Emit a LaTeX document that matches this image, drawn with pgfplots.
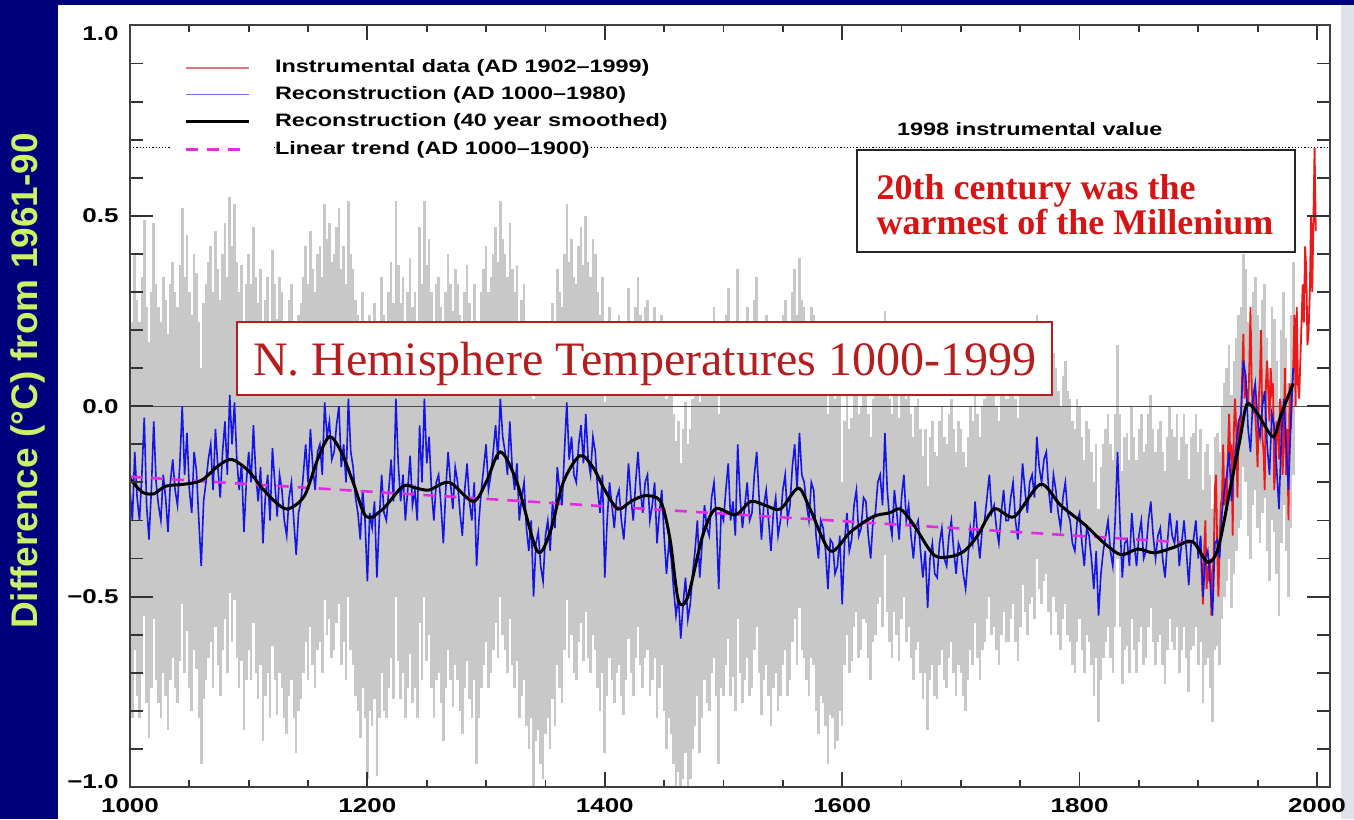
\documentclass[border=0pt]{standalone}
\usepackage{fontspec}
\usepackage{pgfplots}
\pgfplotsset{compat=1.18}
\usepackage{pgfplotstable}

\newfontfamily\idlfont{Liberation Sans}[FakeStretch=1.3]
\newfontfamily\labfont{Liberation Sans}
\newfontfamily\boxserif{Liberation Serif}

\definecolor{navy}{RGB}{0,0,125}
\definecolor{bandgray}{RGB}{200,200,200}
\definecolor{recblue}{RGB}{20,20,230}
\definecolor{instred}{RGB}{235,25,25}
\definecolor{trendmag}{RGB}{225,45,225}
\definecolor{titlered}{RGB}{180,30,30}
\definecolor{boxred}{RGB}{215,20,20}
\definecolor{ylabcol}{RGB}{205,240,105}
\definecolor{edgestrip}{RGB}{225,225,238}
\definecolor{legred}{RGB}{225,120,120}
\definecolor{legblue}{RGB}{110,110,230}

% legend sample: white backing so the dotted reference line stays hidden behind it
\pgfplotsset{legend image code/.code={%
    \fill[white] (-6pt,-4.5pt) rectangle (44pt,4.5pt);
    \draw[#1] (0pt,0pt) -- (31.5pt,0pt);}}

% reconstruction (t) with its two-sigma half width (s)
\pgfplotstableread{
yr t s
1000 -0.22 0.52
1002 -0.30 0.52
1004 -0.12 0.52
1006 -0.24 0.52
1008 -0.30 0.52
1010 -0.18 0.52
1012 -0.03 0.52
1014 -0.26 0.52
1016 -0.35 0.52
1018 -0.22 0.52
1020 -0.04 0.52
1022 -0.20 0.52
1024 -0.26 0.52
1026 -0.30 0.52
1028 -0.18 0.52
1030 -0.24 0.52
1032 -0.33 0.52
1034 -0.20 0.52
1036 -0.14 0.52
1038 -0.22 0.52
1040 -0.26 0.52
1042 -0.15 0.52
1044 0.00 0.52
1046 -0.18 0.52
1048 -0.07 0.52
1050 -0.22 0.52
1052 -0.28 0.52
1054 -0.12 0.52
1056 -0.17 0.52
1058 -0.30 0.52
1060 -0.42 0.52
1062 -0.25 0.52
1064 -0.20 0.52
1066 -0.14 0.52
1068 -0.10 0.52
1070 -0.22 0.52
1072 -0.06 0.52
1074 -0.16 0.52
1076 -0.24 0.52
1078 -0.12 0.52
1080 -0.04 0.52
1082 -0.18 0.52
1084 0.03 0.52
1086 -0.10 0.52
1088 0.01 0.52
1090 -0.14 0.52
1092 -0.22 0.52
1094 -0.15 0.52
1096 -0.33 0.52
1098 -0.20 0.52
1100 -0.12 0.52
1102 -0.20 0.52
1104 -0.05 0.52
1106 -0.18 0.52
1108 -0.25 0.52
1110 -0.16 0.52
1112 -0.36 0.52
1114 -0.24 0.52
1116 -0.18 0.52
1118 -0.30 0.52
1120 -0.11 0.52
1122 -0.20 0.52
1124 -0.29 0.52
1126 -0.18 0.52
1128 -0.22 0.52
1130 -0.30 0.52
1132 -0.34 0.52
1134 -0.24 0.52
1136 -0.20 0.52
1138 -0.30 0.52
1140 -0.39 0.52
1142 -0.28 0.52
1144 -0.25 0.52
1146 -0.18 0.52
1148 -0.10 0.52
1150 -0.20 0.52
1152 -0.06 0.52
1154 -0.16 0.52
1156 -0.22 0.52
1158 -0.12 0.52
1160 -0.10 0.52
1162 -0.18 0.52
1164 0.01 0.52
1166 -0.08 0.52
1168 -0.04 0.52
1170 -0.14 0.52
1172 -0.12 0.52
1174 -0.05 0.52
1176 0.00 0.52
1178 -0.16 0.52
1180 -0.10 0.52
1182 -0.20 0.52
1184 0.02 0.52
1186 -0.12 0.52
1188 -0.16 0.52
1190 -0.24 0.52
1192 -0.28 0.52
1194 -0.35 0.52
1196 -0.22 0.52
1198 -0.30 0.52
1200 -0.46 0.52
1202 -0.28 0.52
1204 -0.32 0.52
1206 -0.25 0.52
1208 -0.45 0.52
1210 -0.30 0.52
1212 -0.18 0.52
1214 -0.28 0.52
1216 -0.30 0.52
1218 -0.22 0.52
1220 -0.14 0.52
1222 -0.25 0.52
1224 0.02 0.52
1226 -0.15 0.52
1228 -0.25 0.52
1230 -0.18 0.52
1232 -0.30 0.52
1234 -0.22 0.52
1236 -0.13 0.52
1238 -0.26 0.52
1240 -0.22 0.52
1242 -0.30 0.52
1244 -0.05 0.52
1246 -0.20 0.52
1248 0.02 0.52
1250 -0.15 0.52
1252 -0.08 0.52
1254 -0.22 0.52
1256 -0.30 0.52
1258 -0.20 0.52
1260 -0.18 0.52
1262 -0.26 0.52
1264 -0.36 0.52
1266 -0.22 0.52
1268 -0.12 0.52
1270 -0.20 0.52
1272 -0.27 0.52
1274 -0.16 0.52
1276 -0.20 0.52
1278 -0.28 0.52
1280 -0.34 0.52
1282 -0.22 0.52
1284 -0.15 0.52
1286 -0.25 0.52
1288 -0.30 0.52
1290 -0.20 0.52
1292 -0.42 0.52
1294 -0.30 0.52
1296 -0.22 0.52
1298 -0.16 0.52
1300 -0.10 0.52
1302 -0.22 0.52
1304 -0.18 0.52
1306 -0.12 0.52
1308 -0.05 0.52
1310 -0.14 0.52
1312 0.02 0.52
1314 -0.08 0.52
1316 -0.12 0.52
1318 -0.18 0.52
1320 -0.04 0.52
1322 -0.16 0.52
1324 -0.22 0.52
1326 -0.15 0.52
1328 -0.30 0.52
1330 -0.24 0.52
1332 -0.20 0.52
1334 -0.32 0.52
1336 -0.38 0.52
1338 -0.30 0.52
1340 -0.50 0.52
1342 -0.36 0.52
1344 -0.33 0.52
1346 -0.42 0.52
1348 -0.46 0.52
1350 -0.34 0.52
1352 -0.30 0.52
1354 -0.38 0.52
1356 -0.25 0.52
1358 -0.32 0.52
1360 -0.16 0.52
1362 -0.22 0.52
1364 -0.26 0.52
1366 -0.12 0.52
1368 0.01 0.52
1370 -0.14 0.52
1372 -0.08 0.52
1374 -0.18 0.52
1376 -0.20 0.52
1378 -0.10 0.52
1380 -0.05 0.52
1382 -0.15 0.52
1384 -0.02 0.52
1386 -0.14 0.52
1388 -0.18 0.52
1390 -0.08 0.52
1392 -0.12 0.52
1394 -0.22 0.52
1396 -0.28 0.52
1398 -0.18 0.52
1400 -0.45 0.46
1402 -0.30 0.46
1404 -0.20 0.46
1406 -0.26 0.46
1408 -0.32 0.46
1410 -0.24 0.46
1412 -0.22 0.46
1414 -0.30 0.46
1416 -0.35 0.46
1418 -0.26 0.46
1420 -0.15 0.46
1422 -0.24 0.46
1424 -0.30 0.46
1426 -0.20 0.46
1428 -0.12 0.46
1430 -0.22 0.46
1432 -0.28 0.46
1434 -0.20 0.46
1436 -0.18 0.46
1438 -0.30 0.46
1440 -0.26 0.46
1442 -0.20 0.46
1444 -0.36 0.46
1446 -0.28 0.46
1448 -0.22 0.46
1450 -0.34 0.46
1452 -0.44 0.46
1454 -0.36 0.46
1456 -0.40 0.46
1458 -0.48 0.46
1460 -0.55 0.46
1462 -0.50 0.46
1464 -0.61 0.46
1466 -0.52 0.46
1468 -0.45 0.46
1470 -0.56 0.46
1472 -0.52 0.46
1474 -0.44 0.46
1476 -0.38 0.46
1478 -0.30 0.46
1480 -0.45 0.46
1482 -0.36 0.46
1484 -0.26 0.46
1486 -0.32 0.46
1488 -0.34 0.46
1490 -0.24 0.46
1492 -0.20 0.46
1494 -0.30 0.46
1496 -0.48 0.46
1498 -0.28 0.46
1500 -0.30 0.46
1502 -0.22 0.46
1504 -0.15 0.46
1506 -0.30 0.46
1508 -0.25 0.46
1510 -0.34 0.46
1512 -0.10 0.46
1514 -0.24 0.46
1516 -0.32 0.46
1518 -0.26 0.46
1520 -0.20 0.46
1522 -0.30 0.46
1524 -0.28 0.46
1526 -0.18 0.46
1528 -0.12 0.46
1530 -0.24 0.46
1532 -0.35 0.46
1534 -0.26 0.46
1536 -0.22 0.46
1538 -0.30 0.46
1540 -0.38 0.46
1542 -0.28 0.46
1544 -0.24 0.46
1546 -0.34 0.46
1548 -0.30 0.46
1550 -0.22 0.46
1552 -0.18 0.46
1554 -0.30 0.46
1556 -0.26 0.46
1558 -0.16 0.46
1560 -0.10 0.46
1562 -0.22 0.46
1564 -0.07 0.46
1566 -0.18 0.46
1568 -0.20 0.46
1570 -0.26 0.46
1572 -0.30 0.46
1574 -0.20 0.46
1576 -0.22 0.46
1578 -0.34 0.46
1580 -0.40 0.46
1582 -0.30 0.46
1584 -0.32 0.46
1586 -0.38 0.46
1588 -0.48 0.46
1590 -0.35 0.46
1592 -0.36 0.46
1594 -0.44 0.46
1596 -0.42 0.46
1598 -0.34 0.46
1600 -0.52 0.32
1602 -0.36 0.32
1604 -0.28 0.32
1606 -0.38 0.32
1608 -0.35 0.32
1610 -0.26 0.32
1612 -0.22 0.32
1614 -0.34 0.32
1616 -0.32 0.32
1618 -0.24 0.32
1620 -0.25 0.32
1622 -0.34 0.32
1624 -0.40 0.32
1626 -0.30 0.32
1628 -0.28 0.32
1630 -0.20 0.32
1632 -0.18 0.32
1634 -0.26 0.32
1636 -0.07 0.32
1638 -0.22 0.32
1640 -0.30 0.32
1642 -0.34 0.32
1644 -0.22 0.32
1646 -0.28 0.32
1648 -0.35 0.32
1650 -0.24 0.32
1652 -0.18 0.32
1654 -0.30 0.32
1656 -0.26 0.32
1658 -0.34 0.32
1660 -0.40 0.32
1662 -0.32 0.32
1664 -0.30 0.32
1666 -0.38 0.32
1668 -0.45 0.32
1670 -0.38 0.32
1672 -0.53 0.32
1674 -0.40 0.32
1676 -0.36 0.32
1678 -0.44 0.32
1680 -0.45 0.32
1682 -0.36 0.32
1684 -0.32 0.32
1686 -0.40 0.32
1688 -0.42 0.32
1690 -0.34 0.32
1692 -0.30 0.32
1694 -0.38 0.32
1696 -0.44 0.32
1698 -0.36 0.32
1700 -0.38 0.32
1702 -0.44 0.32
1704 -0.48 0.32
1706 -0.40 0.32
1708 -0.32 0.32
1710 -0.36 0.32
1712 -0.25 0.32
1714 -0.34 0.32
1716 -0.40 0.32
1718 -0.32 0.32
1720 -0.30 0.32
1722 -0.24 0.32
1724 -0.18 0.32
1726 -0.28 0.32
1728 -0.26 0.32
1730 -0.32 0.32
1732 -0.36 0.32
1734 -0.28 0.32
1736 -0.22 0.32
1738 -0.30 0.32
1740 -0.30 0.32
1742 -0.24 0.32
1744 -0.20 0.32
1746 -0.30 0.32
1748 -0.35 0.32
1750 -0.26 0.32
1752 -0.15 0.32
1754 -0.22 0.32
1756 -0.28 0.32
1758 -0.20 0.32
1760 -0.18 0.32
1762 -0.24 0.32
1764 -0.08 0.32
1766 -0.16 0.32
1768 -0.20 0.32
1770 -0.14 0.32
1772 -0.12 0.32
1774 -0.22 0.32
1776 -0.28 0.32
1778 -0.18 0.32
1780 -0.22 0.32
1782 -0.28 0.32
1784 -0.32 0.32
1786 -0.24 0.32
1788 -0.20 0.32
1790 -0.28 0.32
1792 -0.30 0.32
1794 -0.36 0.32
1796 -0.38 0.32
1798 -0.30 0.32
1800 -0.28 0.28
1802 -0.36 0.28
1804 -0.42 0.28
1806 -0.32 0.28
1808 -0.34 0.28
1810 -0.40 0.28
1812 -0.48 0.28
1814 -0.38 0.28
1816 -0.55 0.28
1818 -0.44 0.28
1820 -0.38 0.28
1822 -0.34 0.28
1824 -0.30 0.28
1826 -0.38 0.28
1828 -0.42 0.28
1830 -0.30 0.28
1832 -0.12 0.28
1834 -0.30 0.28
1836 -0.45 0.28
1838 -0.36 0.28
1840 -0.35 0.28
1842 -0.42 0.28
1844 -0.28 0.28
1846 -0.36 0.28
1848 -0.42 0.28
1850 -0.34 0.28
1852 -0.30 0.28
1854 -0.40 0.28
1856 -0.38 0.28
1858 -0.30 0.28
1860 -0.25 0.28
1862 -0.34 0.28
1864 -0.40 0.28
1866 -0.34 0.28
1868 -0.32 0.28
1870 -0.40 0.28
1872 -0.45 0.28
1874 -0.36 0.28
1876 -0.28 0.28
1878 -0.34 0.28
1880 -0.36 0.28
1882 -0.30 0.28
1884 -0.42 0.28
1886 -0.36 0.28
1888 -0.30 0.28
1890 -0.38 0.28
1892 -0.47 0.28
1894 -0.36 0.28
1896 -0.35 0.28
1898 -0.30 0.28
1900 -0.40 0.28
1902 -0.34 0.28
1904 -0.50 0.28
1906 -0.40 0.28
1908 -0.38 0.28
1910 -0.46 0.28
1912 -0.55 0.28
1914 -0.36 0.28
1916 -0.35 0.28
1918 -0.40 0.28
1920 -0.28 0.28
1922 -0.22 0.28
1924 -0.18 0.28
1926 -0.12 0.28
1928 -0.25 0.28
1930 -0.16 0.28
1932 -0.10 0.28
1934 -0.04 0.28
1936 -0.02 0.28
1938 0.12 0.28
1940 0.08 0.28
1942 -0.06 0.28
1944 -0.12 0.28
1946 0.02 0.28
1948 0.06 0.28
1950 -0.04 0.28
1952 -0.08 0.28
1954 0.00 0.28
1956 0.04 0.28
1958 -0.10 0.28
1960 -0.18 0.28
1962 -0.02 0.28
1964 -0.05 0.28
1966 -0.16 0.28
1968 -0.27 0.28
1970 -0.08 0.28
1972 0.02 0.28
1974 -0.10 0.28
1976 -0.22 0.28
1978 -0.04 0.28
1980 0.10 0.28
}\recon

% 40-year smoothed reconstruction
\pgfplotstableread{
yr t
1000 -0.19
1010 -0.225
1020 -0.23
1030 -0.21
1045 -0.205
1060 -0.195
1075 -0.155
1086 -0.14
1100 -0.17
1110 -0.21
1122 -0.25
1133 -0.27
1147 -0.235
1158 -0.14
1168 -0.08
1178 -0.12
1188 -0.20
1199 -0.29
1213 -0.27
1230 -0.21
1241 -0.215
1252 -0.22
1269 -0.20
1289 -0.25
1300 -0.20
1312 -0.12
1326 -0.20
1343 -0.38
1354 -0.33
1365 -0.20
1379 -0.13
1390 -0.16
1400 -0.22
1411 -0.27
1422 -0.25
1434 -0.235
1447 -0.25
1455 -0.35
1462 -0.51
1470 -0.50
1482 -0.345
1493 -0.27
1510 -0.285
1523 -0.25
1535 -0.26
1548 -0.27
1563 -0.215
1573 -0.27
1590 -0.38
1607 -0.33
1626 -0.29
1640 -0.28
1649 -0.27
1660 -0.31
1677 -0.39
1691 -0.395
1703 -0.38
1714 -0.34
1728 -0.27
1745 -0.29
1767 -0.205
1784 -0.26
1804 -0.31
1821 -0.36
1835 -0.39
1849 -0.375
1863 -0.385
1880 -0.37
1895 -0.355
1908 -0.41
1917 -0.37
1927 -0.215
1935 -0.09
1941 0.005
1950 -0.02
1963 -0.08
1970 -0.02
1980 0.06
}\smoothed

% instrumental record
\pgfplotstableread{
yr t
1902 -0.35
1903 -0.45
1904 -0.52
1905 -0.38
1906 -0.30
1907 -0.48
1908 -0.42
1909 -0.46
1910 -0.40
1911 -0.55
1912 -0.44
1913 -0.40
1914 -0.22
1915 -0.18
1916 -0.38
1917 -0.50
1918 -0.36
1919 -0.26
1920 -0.24
1921 -0.10
1922 -0.26
1923 -0.20
1924 -0.26
1925 -0.12
1926 -0.02
1927 -0.14
1928 -0.10
1929 -0.34
1930 -0.06
1931 0.02
1932 -0.06
1933 -0.24
1934 -0.04
1935 -0.10
1936 -0.04
1937 0.08
1938 0.19
1939 0.02
1940 0.05
1941 0.04
1942 0.00
1943 0.10
1944 0.26
1945 0.06
1946 -0.02
1947 0.04
1948 -0.02
1949 -0.08
1950 -0.16
1951 0.02
1952 0.08
1953 0.20
1954 -0.08
1955 -0.12
1956 -0.22
1957 0.06
1958 0.12
1959 0.04
1960 -0.04
1961 0.10
1962 0.04
1963 0.06
1964 -0.22
1965 -0.16
1966 -0.04
1967 -0.06
1968 -0.14
1969 0.02
1970 -0.02
1971 -0.18
1972 -0.10
1973 0.10
1974 -0.18
1975 -0.06
1976 -0.30
1977 0.06
1978 -0.06
1979 0.04
1980 0.10
1981 0.24
1982 0.00
1983 0.26
1984 0.06
1985 0.02
1986 0.12
1987 0.22
1988 0.32
1989 0.22
1990 0.42
1991 0.36
1992 0.16
1993 0.20
1994 0.30
1995 0.50
1996 0.30
1997 0.48
1998 0.68
1999 0.46
}\instr

\begin{document}
\begin{tikzpicture}
\fill[navy] (0pt,0pt) rectangle (677pt,409.5pt);
\fill[white] (29pt,0pt) rectangle (677pt,407pt);
\fill[edgestrip] (670.5pt,0pt) rectangle (677pt,407pt);

\begin{axis}[
  scale only axis,
  width=600pt, height=380.75pt,
  at={(65pt,16pt)}, anchor=south west,
  xmin=1000, xmax=2011, ymin=-1, ymax=1,
  axis on top,
  xtick={1000,1200,1400,1600,1800,2000},
  xticklabels={1000,1200,1400,1600,1800,2000},
  minor x tick num=3,
  ytick={-1,-0.5,0,0.5,1},
  yticklabels={\raisebox{2.5pt}[\height][\depth]{−1.0},−0.5,0.0,0.5,\raisebox{-4pt}[\height][\depth]{1.0}},
  minor y tick num=4,
  tick align=inside,
  major tick length=11.5pt, minor tick length=6.5pt,
  xtick style={/pgfplots/major tick length=7.5pt,/pgfplots/minor tick length=3.5pt},
  axis line style={line width=1pt, black!75},
  tick style={line width=0.9pt, black!80},
  ticklabel style={font=\idlfont\bfseries\fontsize{10}{12}\selectfont, black},
  yticklabel style={anchor=east, inner sep=0pt, xshift=-5.5pt},
  xticklabel style={anchor=north, inner sep=0pt, yshift=-5.5pt},
  legend style={at={(0.035,0.9575)}, anchor=north west, draw=none, fill=none,
    inner sep=0pt, outer sep=0pt, row sep=3.5pt, column sep=0pt,
    font=\idlfont\bfseries\fontsize{9}{10}\selectfont,
    nodes={fill=white, inner sep=0pt, text height=7pt, text depth=2.5pt}},
  legend cell align=left,
]
% two-sigma uncertainty band, one vertical stroke per value
\addplot[draw=none, mark=none, forget plot,
  error bars/.cd, y dir=both, y explicit, error mark=none,
  error bar style={draw=bandgray, line width=1.3pt, solid}]
  table[x=yr, y=t, y error=s] {\recon};

% zero line and 1998 reference level
\addplot[black!70, line width=0.6pt, forget plot] coordinates {(1000,0) (2011,0)};
\addplot[black, densely dotted, line width=0.6pt, forget plot] coordinates {(1000,0.68) (2011,0.68)};

% title box
\draw[titlered, line width=0.9pt, fill=white] (axis cs:1090,0.0297) rectangle (axis cs:1777,0.2215);
\node[anchor=base, text=titlered, font=\boxserif\fontsize{24}{26}\selectfont]
  at (axis cs:1433.5,0.082) {N. Hemisphere Temperatures 1000-1999};

% series
\addplot[instred, line width=0.9pt, forget plot] table[x=yr, y=t] {\instr};
\addplot[recblue, line width=0.8pt, forget plot] table[x=yr, y=t] {\recon};
\addplot[trendmag, line width=1.3pt, dash pattern=on 6pt off 4.5pt, forget plot]
  coordinates {(1000,-0.185) (1900,-0.36)};
\addplot[black, line width=1.5pt, smooth, forget plot] table[x=yr, y=t] {\smoothed};

% annotation box
\draw[black!85, line width=0.9pt, fill=white] (axis cs:1612.5,0.405) rectangle (axis cs:1981.5,0.673);
\node[anchor=base west, text=boxred, font=\boxserif\bfseries\fontsize{18}{20}\selectfont]
  at (axis cs:1623,0.542) {20th century was the};
\node[anchor=base west, text=boxred, font=\boxserif\bfseries\fontsize{18}{20}\selectfont]
  at (axis cs:1623,0.45) {warmest of the Millenium};
\node[anchor=base, font=\idlfont\bfseries\fontsize{9}{10}\selectfont]
  at (axis cs:1758,0.71) {1998 instrumental value};

\addlegendimage{color=legred, line width=0.9pt}
\addlegendentry{Instrumental data (AD 1902–1999)}
\addlegendimage{color=legblue, line width=0.9pt}
\addlegendentry{Reconstruction (AD 1000–1980)}
\addlegendimage{color=black, line width=1.5pt}
\addlegendentry{Reconstruction (40 year smoothed)}
\addlegendimage{color=trendmag, line width=1.3pt, dash pattern=on 6pt off 4.5pt}
\addlegendentry{Linear trend (AD 1000–1900)}
\end{axis}

\node[rotate=90, text=ylabcol, font=\labfont\bfseries\fontsize{18.5}{20}\selectfont]
  at (14pt,219pt) {Difference (°C) from 1961-90};

\pgfresetboundingbox
\path[use as bounding box] (0pt,0pt) rectangle (677pt,409.5pt);
\end{tikzpicture}
\end{document}
